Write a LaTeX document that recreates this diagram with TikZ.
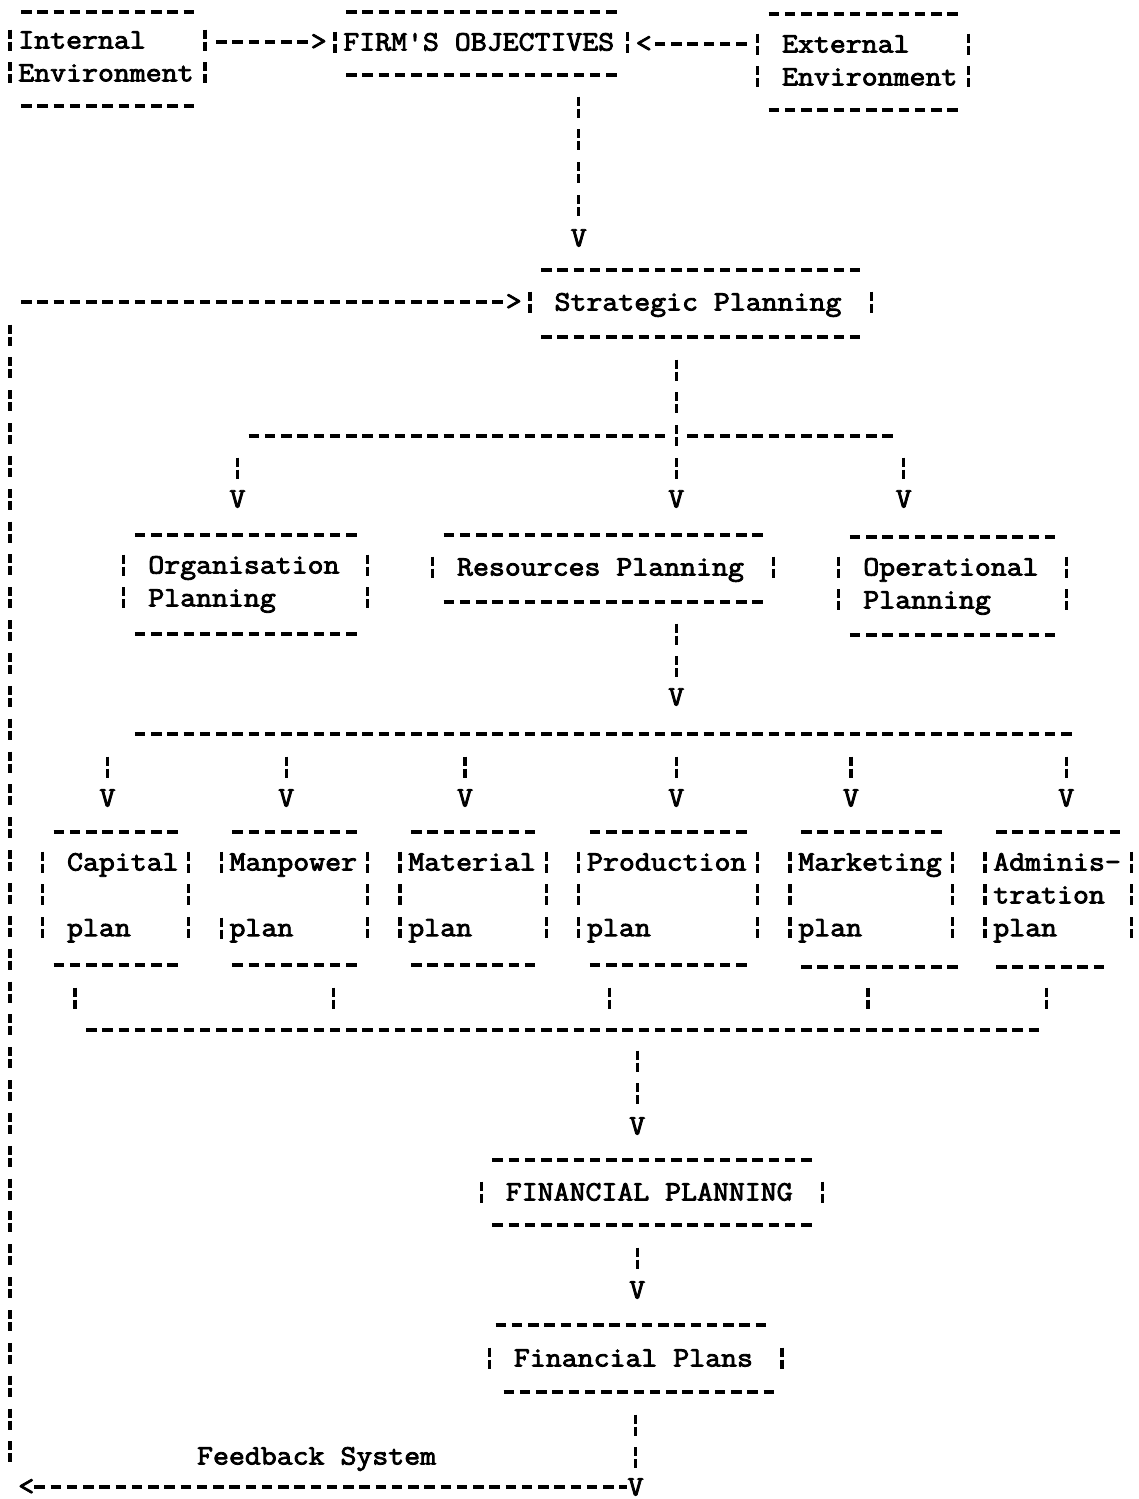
\documentclass[tikz,border=0pt]{standalone}
\usepackage{fontspec}
\newfontfamily\tw{Latin Modern Mono}[FakeStretch=1.105,FakeBold=3]
% typewriter face: one column = 16.25pt, one line = 32.85pt
\newcommand\typew{\tw\fontsize{28}{32.85}\selectfont}
\newcommand\ml[1]{\begin{tabular}[t]{@{}l@{}}#1\end{tabular}}
% row of typed dashes from column #1 to column #2 at height #3
\newcommand\hrow[3]{\draw[hd] (#1-0.323,#3) -- (#2+0.323,#3);}
% column of broken bars in column #1 from line #2 to line #3
\newcommand\vrun[3]{\draw[vd] (#1,#2-10.5) -- (#1,#3+10.5);}
\begin{document}
\begin{tikzpicture}[x=16.25pt,y=-1pt,
  hd/.style={line width=3.2pt,dash pattern=on 10.5pt off 5.75pt},
  vd/.style={line width=3.3pt,dash pattern=on 9pt off 3pt on 9pt off 11.85pt},
  vda/.style={vd,shorten >=3.5pt},
  lbl/.style={font=\typew,inner sep=0pt,anchor=base west},
  tip/.style={font=\typew,inner sep=0pt,anchor=center}]
\fill[white] (-0.61538,0) rectangle (69.41538,1499);
\useasboundingbox (-0.61538,0) rectangle (69.41538,1499);

% ---------- environment and objectives ----------
\node[lbl] (int) at (0.5,48.5) {\ml{Internal\\Environment}};
\hrow{1}{11}{12} \hrow{1}{11}{106} \vrun{0}{40}{73} \vrun{12}{40}{73}

\node[lbl] (obj) at (20.5,50.5) {FIRM'S OBJECTIVES};
\hrow{21}{37}{12} \hrow{21}{37}{75} \vrun{20}{42}{42} \vrun{38}{42}{42}

\node[lbl] (ext) at (47.5,52.5) {\ml{External\\Environment}};
\hrow{47}{58}{14} \hrow{47}{58}{110} \vrun{46}{44}{77} \vrun{59}{44}{77}

\node[tip] (t1) at (19,42) {>};
\coordinate (c1) at (12.677,42);
\draw[hd] (c1) -- (t1.west);

\node[tip] (t2) at (39,44) {<};
\coordinate (c2) at (45.323,44);
\draw[hd] (c2) -- (t2.east);

\node[tip] (t3) at (35,238) {V};
\coordinate (c3) at (35,96.5);
\draw[vda] (c3) -- (t3.north);

% ---------- strategic planning ----------
\node[lbl] (str) at (33.5,310.5) {Strategic Planning};
\hrow{33}{52}{270} \hrow{33}{52}{337} \vrun{32}{302}{302} \vrun{53}{302}{302}

\node[tip] (t4) at (31,302) {>};
\coordinate (fbT) at (0.677,302);
\draw[hd] (fbT) -- (t4.west);

% feedback line on the left
\coordinate (fbL1) at (0,324.5);
\coordinate (fbL2) at (0,1467.5);
\draw[vd] (fbL1) -- (fbL2);

% branching below strategic planning
\node[tip] (t5) at (41,499) {V};
\coordinate (c5) at (41,359.5);
\draw[vda] (c5) -- (t5.north);
\hrow{15}{40}{436} \hrow{42}{54}{436}
\node[tip] (t6) at (14,499) {V};
\coordinate (c6) at (14,457.5);
\draw[vda] (c6) -- (t6.north);
\node[tip] (t7) at (55,499) {V};
\coordinate (c7) at (55,457.5);
\draw[vda] (c7) -- (t7.north);

% ---------- second level ----------
\node[lbl] (org) at (8.5,573.5) {\ml{Organisation\\Planning}};
\hrow{8}{21}{535} \hrow{8}{21}{634} \vrun{7}{565}{598} \vrun{22}{565}{598}

\node[lbl] (res) at (27.5,575.5) {Resources Planning};
\hrow{27}{46}{535} \hrow{27}{46}{602} \vrun{26}{567}{567} \vrun{47}{567}{567}

\node[lbl] (opr) at (52.5,575.5) {\ml{Operational\\Planning}};
\hrow{52}{64}{537} \hrow{52}{64}{635} \vrun{51}{567}{600} \vrun{65}{567}{600}

\node[tip] (t8) at (41,697) {V};
\coordinate (c8) at (41,623.5);
\draw[vda] (c8) -- (t8.north);
\hrow{8}{65}{734}
\foreach \c/\n in {6/a,17/b,28/c,41/d,51.75/e,65/f}{
  \coordinate (d\n) at (\c,756.5);
  \node[tip] (v\n) at (\c,798) {V};
  \draw[vda] (d\n) -- (v\n.north);
}

% ---------- resource plans ----------
\node[lbl] (cap) at (3.5,870.5) {\ml{Capital\\ \\plan}};
\hrow{3}{10}{832} \hrow{3}{10}{965} \vrun{2}{862}{928} \vrun{11}{862}{928}

\node[lbl] (man) at (13.5,870.5) {\ml{Manpower\\ \\plan}};
\hrow{14}{21}{832} \hrow{14}{21}{965} \vrun{13}{862}{862} \vrun{13}{928}{928} \vrun{22}{862}{928}

\node[lbl] (mat) at (24.5,870.5) {\ml{Material\\ \\plan}};
\hrow{25}{32}{832} \hrow{25}{32}{965} \vrun{24}{862}{928} \vrun{33}{862}{928}

\node[lbl] (pro) at (35.5,870.5) {\ml{Production\\ \\plan}};
\hrow{36}{45}{832} \hrow{36}{45}{965} \vrun{35}{862}{928} \vrun{46}{862}{928}

\node[lbl] (mkt) at (48.5,870.5) {\ml{Marketing\\ \\plan}};
\hrow{49}{57}{832} \hrow{49}{58}{967} \vrun{48}{862}{928} \vrun{58}{862}{928}

\node[lbl] (adm) at (60.5,870.5) {\ml{Adminis-\\tration\\plan}};
\hrow{61}{68}{832} \hrow{61}{67}{967} \vrun{60}{862}{928} \vrun{69}{862}{928}

% collecting line
\foreach \c in {4,19.9,36.9,52.8,63.8}{ \vrun{\c}{998}{998} }
\hrow{5}{63}{1030}
\node[tip] (t10) at (38.6,1126) {V};
\coordinate (c10) at (38.6,1050.5);
\draw[vda] (c10) -- (t10.north);

% ---------- financial planning ----------
\node[lbl] (fin) at (30.5,1200.5) {FINANCIAL PLANNING};
\hrow{30}{49}{1160} \hrow{30}{49}{1225} \vrun{29}{1192}{1192} \vrun{50}{1192}{1192}

\node[tip] (t11) at (38.6,1290) {V};
\coordinate (c11) at (38.6,1247.5);
\draw[vda] (c11) -- (t11.north);

\node[lbl] (fp) at (31,1366.5) {Financial Plans};
\hrow{30.2}{46.2}{1325} \hrow{30.7}{46.7}{1392} \vrun{29.5}{1358}{1358} \vrun{47.5}{1358}{1358}

\node[tip] (t12) at (38.5,1487) {V};
\coordinate (c12) at (38.5,1414.5);
\draw[vda] (c12) -- (t12.north);

\node[tip] (t13) at (1,1487) {<};
\draw[hd] (t13.east) -- (t12.west);

\node[lbl] (fbs) at (11.5,1464.5) {Feedback System};
\end{tikzpicture}
\end{document}
